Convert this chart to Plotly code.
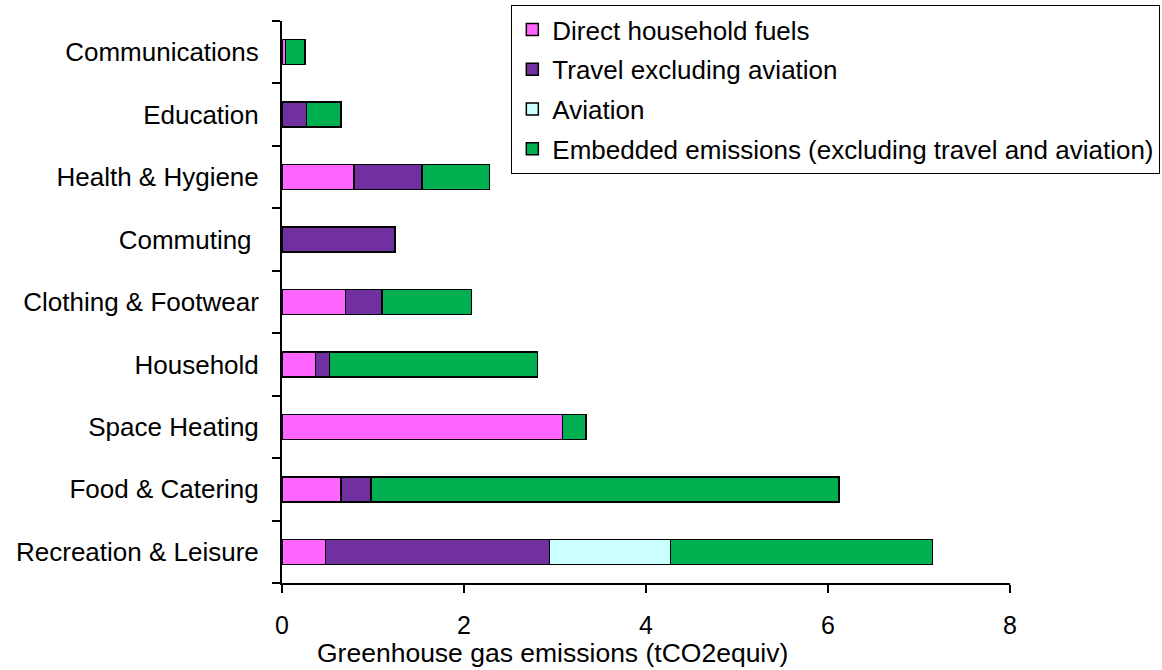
import plotly.graph_objects as go

# categories listed bottom to top
categories = [
    "Recreation & Leisure",
    "Food & Catering",
    "Space Heating",
    "Household",
    "Clothing & Footwear",
    "Commuting\u00a0",
    "Health & Hygiene",
    "Education",
    "Communications",
]

direct_fuels = [0.48, 0.65, 3.08, 0.37, 0.70, None, 0.79, None, 0.04]
travel_ex_aviation = [2.46, 0.33, None, 0.15, 0.40, 1.24, 0.75, 0.27, None]
aviation = [1.33, None, None, None, None, None, None, None, None]
embedded = [2.88, 5.14, 0.26, 2.29, 0.98, None, 0.74, 0.38, 0.21]

series = [
    ("Direct household fuels", direct_fuels, "#FF66FF"),
    ("Travel excluding aviation", travel_ex_aviation, "#7030A0"),
    ("Aviation", aviation, "#CCFFFF"),
    ("Embedded emissions (excluding travel and aviation)", embedded, "#00B050"),
]

x_ticks = [0, 2, 4, 6, 8]

FONT = "Liberation Sans, Arial, sans-serif"

fig = go.Figure()
for i, (name, vals, color) in enumerate(series):
    fig.add_trace(
        go.Bar(
            y=categories,
            x=vals,
            orientation="h",
            name=name,
            legendgroup=f"g{i}",
            marker=dict(color=color, line=dict(color="black", width=1.5)),
            hovertemplate="%{y}: %{x:.2f}<extra>" + name + "</extra>",
        )
    )

fig.update_layout(
    barmode="stack",
    bargap=0.6,
    width=1162,
    height=670,
    plot_bgcolor="white",
    paper_bgcolor="white",
    font=dict(family=FONT, size=26, color="black"),
    margin=dict(l=282, r=152, t=21, b=87, autoexpand=False),
    legend=dict(
        x=0.315,
        y=1.0285,
        xanchor="left",
        yanchor="top",
        bgcolor="white",
        bordercolor="black",
        borderwidth=1,
        font=dict(family=FONT, size=26, color="black"),
        traceorder="grouped",
        tracegroupgap=3,
    ),
    showlegend=True,
)

fig.update_xaxes(
    range=[0, 8],
    tickvals=x_ticks,
    showline=True,
    linecolor="black",
    linewidth=2,
    ticks="outside",
    ticklen=8,
    tickwidth=2,
    tickcolor="black",
    ticklabelstandoff=11,
    showgrid=False,
    zeroline=False,
    tickfont=dict(size=25),
)
fig.update_yaxes(
    type="category",
    categoryorder="array",
    categoryarray=categories,
    showline=True,
    linecolor="black",
    linewidth=2,
    ticks="outside",
    tickson="boundaries",
    ticklen=8,
    tickwidth=2,
    tickcolor="black",
    ticklabelstandoff=16,
    showgrid=False,
    tickfont=dict(size=26),
)

fig.add_annotation(
    text="Greenhouse gas emissions (tCO2equiv)",
    xref="paper",
    yref="paper",
    x=0.372,
    y=-0.125,
    xanchor="center",
    yanchor="middle",
    showarrow=False,
    font=dict(family=FONT, size=26.5, color="black"),
)

# page has a default 8px body margin; drop it so the figure sits at 0,0
fig.write_html(
    "out.html",
    config={"displayModeBar": False},
    post_script="document.body.style.margin='0';",
)
